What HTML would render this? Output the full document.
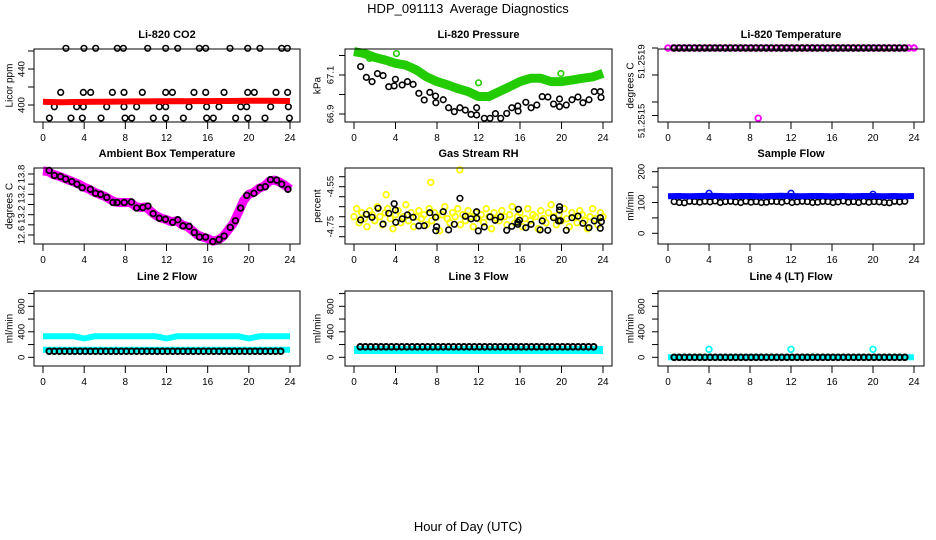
<!DOCTYPE html>
<html><head><meta charset="utf-8"><style>
html,body{margin:0;padding:0;background:#fff;}
svg{display:block;font-family:"Liberation Sans",Arial,sans-serif;}
.tt{font-size:11px;font-weight:bold;text-anchor:middle;}
.tk{font-size:10px;text-anchor:middle;}
.yk{font-size:9.5px;text-anchor:middle;}
</style></head><body>
<svg id="chart" width="936" height="540" viewBox="0 0 936 540">
<text x="468" y="13" font-size="13" text-anchor="middle">HDP_091113&#160; Average Diagnostics</text>
<text x="468" y="531" font-size="13" text-anchor="middle">Hour of Day (UTC)</text>
</svg>
<script>
// ---------- data ----------
const xTicks = [0,4,8,12,16,20,24];
// CO2
const co2BlackHours = [2.23,3.98,5.12,7.22,7.81,10.17,11.92,13.09,15.19,15.81,18.17,19.89,21.08,23.19,23.74,
 1.72,3.92,4.63,6.74,7.87,9.65,11.92,12.57,14.67,15.81,17.59,19.89,20.53,22.64,23.77,
 1.10,3.27,3.92,6.19,7.87,9.10,11.30,11.92,14.19,15.90,17.10,19.21,19.79,22.12,23.84,
 0.62,2.72,3.82,5.64,7.97,8.62,10.72,11.92,13.64,15.90,16.55,18.72,19.89,21.57,23.94];
const co2BlackValues = [463,463,463,463,463,463,463,463,463,463,463,463,463,463,463,
 414,414,414,414,414,414,414,414,414,414,414,414,414,414,414,
 398,398,398,398,398,398,398,398,398,398,398,398,398,398,398,
 385.5,385.5,385.5,385.5,385.5,385.5,385.5,385.5,385.5,385.5,385.5,385.5,385.5,385.5,385.5];
const co2RedValues = [403.5,403.2,403.0,403.3,403.4,403.6,403.5,403.8,403.9,404.0,404.0,404.2,404.1,404.3,404.2,404.4,404.3,404.5,404.4,404.6,404.8,404.7,404.8,404.6,404.5];
// Pressure
const presGreenValues = [67.22,67.21,67.19,67.177,67.16,67.15,67.126,67.09,67.066,67.05,67.03,67.015,66.99,66.99,67.015,67.04,67.066,67.083,67.083,67.066,67.066,67.074,67.083,67.09,67.108];
const presGreenOutHours = [1.5,4.09,12.0,19.94];
const presGreenOutValues = [67.185,67.21,67.06,67.108];
const presBlackHours = [0.64,1.19,1.74,2.26,2.80,3.35,3.87,3.99,4.64,5.15,5.70,6.25,6.77,7.31,7.86,7.89,8.60,9.12,9.67,10.21,10.73,11.28,11.82,11.82,12.56,13.11,13.63,14.14,14.72,15.21,15.79,15.82,16.56,17.07,17.62,18.14,18.69,19.23,19.81,19.81,20.46,21.01,21.59,22.07,22.65,23.16,23.74,23.81];
const presBlackValues = [67.143,67.088,67.066,67.107,67.097,67.040,67.044,67.078,67.049,67.066,67.052,67.006,66.972,67.011,66.992,66.958,66.973,66.932,66.912,66.932,66.920,66.898,66.932,66.895,66.878,66.878,66.902,66.878,66.903,66.932,66.941,66.915,66.960,66.932,66.946,66.989,66.987,66.951,66.977,66.938,66.946,66.973,66.987,66.958,66.973,67.015,67.015,66.985];
// Li-820 temperature
const tempValue = 51.2519;
const tempOutHours = [8.8];
const tempOutValues = [51.25164];
// Ambient box temperature
const ambBlackHours = [0.6,1.1,1.7,2.2,2.8,3.3,3.8,4.6,5.1,5.6,6.2,6.8,7.2,7.9,8.6,9.1,9.7,10.2,10.7,11.3,11.9,12.6,13.1,13.6,14.2,14.7,15.2,15.8,16.5,17.1,17.6,18.2,18.7,19.2,19.8,20.5,21.1,21.6,22.1,22.7,23.2,23.8];
const ambBlackValues = [13.87,13.77,13.75,13.70,13.65,13.60,13.53,13.50,13.42,13.40,13.34,13.24,13.24,13.24,13.25,13.13,13.14,13.17,13.02,12.93,12.91,12.85,12.90,12.78,12.77,12.65,12.56,12.56,12.47,12.51,12.58,12.75,12.88,13.13,13.38,13.42,13.53,13.55,13.69,13.68,13.60,13.50];
const ambMagentaValues = [13.86,13.85,13.79,13.76,13.72,13.68,13.64,13.60,13.54,13.50,13.44,13.40,13.36,13.30,13.25,13.24,13.24,13.24,13.16,13.14,13.15,13.06,12.98,12.93,12.90,12.86,12.88,12.80,12.77,12.69,12.60,12.56,12.53,12.48,12.50,12.57,12.70,12.83,13.05,13.28,13.40,13.44,13.52,13.56,13.66,13.68,13.64,13.58,13.50];
const ambTickLabels = ["13.8","13.2","13.2","12.6"];
// Gas stream RH
const rhBlackHours = [0.64,1.19,1.74,2.32,2.80,3.35,3.87,3.99,4.03,4.64,5.15,5.70,6.25,6.77,7.31,7.86,7.89,7.96,8.60,9.12,9.67,10.21,10.73,11.28,11.82,11.82,11.98,12.56,13.11,13.60,14.14,14.72,15.21,15.79,15.79,15.85,15.95,16.56,17.07,17.94,18.14,18.68,19.23,19.71,19.81,19.81,19.88,20.46,21.01,21.59,22.07,22.65,23.16,23.74,23.74,23.84];
const rhBlackValues = [-4.716,-4.688,-4.703,-4.658,-4.737,-4.683,-4.635,-4.667,-4.728,-4.711,-4.691,-4.703,-4.746,-4.745,-4.680,-4.703,-4.770,-4.750,-4.675,-4.766,-4.738,-4.608,-4.698,-4.711,-4.675,-4.708,-4.771,-4.751,-4.701,-4.718,-4.701,-4.768,-4.748,-4.738,-4.728,-4.663,-4.718,-4.755,-4.738,-4.766,-4.721,-4.768,-4.705,-4.721,-4.667,-4.650,-4.720,-4.768,-4.705,-4.697,-4.733,-4.755,-4.721,-4.705,-4.758,-4.725];
const rhYellowValues = [-4.70,-4.66,-4.73,-4.68,-4.71,-4.75,-4.67,-4.69,-4.72,-4.65,-4.70,-4.74,-4.68,-4.66,-4.71,-4.76,-4.69,-4.67,-4.73,-4.70,-4.64,-4.72,-4.68,-4.75,-4.70,-4.67,-4.71,-4.69,-4.74,-4.66,-4.72,-4.68,-4.70,-4.77,-4.69,-4.65,-4.71,-4.73,-4.68,-4.70,-4.66,-4.74,-4.69,-4.72,-4.67,-4.70,-4.75,-4.68,-4.71,-4.69,-4.73,-4.66,-4.70,-4.76,-4.68,-4.71,-4.72,-4.67,-4.70,-4.74,-4.69,-4.65,-4.73,-4.70,-4.68,-4.75,-4.71,-4.66,-4.72,-4.69,-4.70,-4.76,-4.67,-4.71,-4.73,-4.68,-4.64,-4.70,-4.74,-4.69,-4.72,-4.66,-4.71,-4.75,-4.68,-4.70,-4.73,-4.67,-4.69,-4.72,-4.76,-4.70,-4.66,-4.71,-4.74,-4.68,-4.70];
const rhYellowOutHours = [3.1,7.4,10.2];
const rhYellowOutValues = [-4.59,-4.528,-4.466];
// Sample flow
const sampleBlueValues = [120,121,120,121,122,121,120,121,121,120,121,122,121,120,121,121,120,121,120,121,121,120,121,120,121];
const sampleBlueOutHours = [4,12,20];
const sampleBlueOutValues = [130,130,127];
const sampleBlackValues = [103,100,99,104,103,101,104,102,105,100,103,104,102,100,104,101,103,100,101,104,103,101,105,100,102,104,103,100,101,104,103,100,102,105,101,103,100,104,101,103,102,100,99,104,102,104];
// Line flows
const line2CyanTop = [330,330,330,330,295,330,330,330,330,330,330,330,295,330,330,330,330,330,330,330,295,330,330,330,330];
const line2CyanLow = [120,120,120,120,120,120,120,120,120,120,120,120,120,120,120,120,120,120,120,120,120,120,120,120,120];
const line2Black = [95,95,95,95,95,95,95,95,95,95,95,95,95,95,95,95,95,95,95,95,95,95,95,95,95,95,95,95,95,95,95,95,95,95,95,95,95,95,95,95,95,95,95,95,95,95];
const line3Cyan = [115,115,115,115,115,115,115,115,115,115,115,115,115,115,115,115,115,115,115,115,115,115,115,115,115];
const line3Black = [165,165,165,165,165,165,165,165,165,165,165,165,165,165,165,165,165,165,165,165,165,165,165,165,165,165,165,165,165,165,165,165,165,165,165,165,165,165,165,165,165,165,165,165,165,165];
const line4Cyan = [0,0,0,0,0,0,0,0,0,0,0,0,0,0,0,0,0,0,0,0,0,0,0,0,0];
const line4CyanOutHours = [4,12,20];
const line4CyanOutValues = [125,125,125];
const line4Black = [0,0,0,0,0,0,0,0,0,0,0,0,0,0,0,0,0,0,0,0,0,0,0,0,0,0,0,0,0,0,0,0,0,0,0,0,0,0,0,0,0,0,0,0,0,0];

// ---------- drawing ----------
const NS='http://www.w3.org/2000/svg';
const svg=document.getElementById('chart');
function mk(tag,attrs,parent){const e=document.createElementNS(NS,tag);for(const k in attrs)e.setAttribute(k,attrs[k]);(parent||svg).appendChild(e);return e;}
const colL=[34,345,658], colR=[300,612,924], colX0=[43,354,668], colX24=[290,603,914];
const rowT=[49,168,291], rowB=[122,244,366];
const ylabX=[22,331,642], ytitX=[10,318,631];

function panel(r,c,name,title,ytitle,yA,yB,ticks,labVals,labTxt){
  const g=mk('g',{});
  
  
  const xs=h=>colX0[c]+(h/24)*(colX24[c]-colX0[c]);
  const ys=v=>yA[1]+(v-yA[0])*(yB[1]-yA[1])/(yB[0]-yA[0]);
  const L=colL[c],R=colR[c],T=rowT[r],B=rowB[r];
  const t=mk('text',{x:(L+R)/2,y:T-11,class:'tt'},g);t.textContent=title;
  
  
  const plot=mk('g',{},g);
  
  
  const xa=mk('g',{stroke:'#000','stroke-width':1},g);
  
  
  xTicks.forEach(h=>{const x=xs(h);mk('line',{x1:x,x2:x,y1:B,y2:B+7},xa);
    const tx=mk('text',{x:x,y:B+19,class:'tk',stroke:'none'},xa);tx.textContent=h;
    
    });
  const ya=mk('g',{stroke:'#000','stroke-width':1},g);
  
  
  ticks.forEach(v=>{const y=ys(v);mk('line',{x1:L-6,x2:L,y1:y,y2:y},ya);});
  labVals.forEach((v,i)=>{const y=ys(v);const tx=mk('text',{x:ylabX[c],y:y,class:'yk',stroke:'none',transform:`rotate(-90 ${ylabX[c]} ${y})`,'dominant-baseline':'central'},ya);tx.textContent=labTxt[i];
    
    });
  const yt=mk('text',{x:ytitX[c],y:(T+B)/2,class:'tk','font-size':'10.5',transform:`rotate(-90 ${ytitX[c]} ${(T+B)/2})`,'dominant-baseline':'central'},g);yt.textContent=ytitle;
  
  
  const box=mk('rect',{x:L,y:T,width:R-L,height:B-T,fill:'none',stroke:'#000','stroke-width':1},g);
  
  
  return {
    band(hours,vals,color,w){const pts=hours.map((h,i)=>xs(h).toFixed(1)+','+ys(vals[i]).toFixed(1)).join(' ');
      const p=mk('polyline',{points:pts,fill:'none',stroke:color,'stroke-width':w,'stroke-linejoin':'round','stroke-linecap':'butt'},plot);
      
      },
    pts(hours,vals,color,sw){hours.forEach((h,i)=>{const ci=mk('circle',{cx:xs(h),cy:ys(vals[i]),r:2.8,fill:'none',stroke:color,'stroke-width':sw||1.6},plot);
        
        });}
  };
}
const hourly=Array.from({length:25},(_,i)=>i);
const halfHourly=Array.from({length:49},(_,i)=>i*0.5);
const blackHalf=Array.from({length:46},(_,i)=>0.6+i*0.5);
const yellowHours=rhYellowValues.map((_,i)=>i*0.25);

let p;
p=panel(0,0,'panel-co2','Li-820 CO2','Licor ppm',[400,105],[440,69],[400,420,440,460],[400,440],['400','440']);
p.pts(co2BlackHours,co2BlackValues,'#000');
p.band(hourly,co2RedValues,'#ff0000',6);

p=panel(0,1,'panel-pressure','Li-820 Pressure','kPa',[67.1,75],[66.9,114],[67.2,67.1,67.0,66.9],[67.1,66.9],['67.1','66.9']);
p.pts(presBlackHours,presBlackValues,'#000');
p.band(hourly,presGreenValues,'#22cc00',9);
p.pts(presGreenOutHours,presGreenOutValues,'#22cc00');

p=panel(0,2,'panel-li820-temperature','Li-820 Temperature','degrees C',[51.2519,48],[51.2518,75],[51.2519,51.2518,51.2517,51.25165],[51.25185,51.25163],['51.2519','51.2515']);
p.pts(halfHourly,halfHourly.map(()=>tempValue),'#ff00ff',2);
p.pts(blackHalf,blackHalf.map(()=>tempValue),'#000',1.8);
p.pts(tempOutHours,tempOutValues,'#ff00ff',1.8);

p=panel(1,0,'panel-ambient-temperature','Ambient Box Temperature','degrees C',[13.8,174],[12.6,235],[13.8,13.6,13.4,13.2,13.0,12.8,12.6],[13.8,13.4,13.0,12.6],ambTickLabels);
p.band(halfHourly,ambMagentaValues,'#ff00ff',9);
p.pts(ambBlackHours,ambBlackValues,'#000',1.8);

p=panel(1,1,'panel-gas-stream-rh','Gas Stream RH','percent',[-4.55,186.7],[-4.75,226.7],[-4.50,-4.55,-4.60,-4.65,-4.70,-4.75,-4.80],[-4.55,-4.75],['-4.55','-4.75']);
p.pts(yellowHours,rhYellowValues,'#ffff00',1.8);
p.pts(rhYellowOutHours,rhYellowOutValues,'#ffff00',1.8);
p.pts(rhBlackHours,rhBlackValues,'#000',1.6);

p=panel(1,2,'panel-sample-flow','Sample Flow','ml/min',[0,233.3],[200,171.7],[0,50,100,150,200],[0,100,200],['0','100','200']);
p.pts(blackHalf,sampleBlackValues,'#000');
p.band(hourly,sampleBlueValues,'#0000ff',6);
p.pts(sampleBlueOutHours,sampleBlueOutValues,'#0000ff');

const fT=[0,200,400,600,800,1000], fL=[0,400,800], fLT=['0','400','800'];
p=panel(2,0,'panel-line2-flow','Line 2 Flow','ml/min',[0,357.3],[800,306.3],fT,fL,fLT);
p.band(hourly,line2CyanTop,'#00ffff',6);
p.band(hourly,line2CyanLow,'#00ffff',6);
p.pts(blackHalf,line2Black,'#000',2);

p=panel(2,1,'panel-line3-flow','Line 3 Flow','ml/min',[0,357.3],[800,306.3],fT,fL,fLT);
p.band(hourly,line3Cyan,'#00ffff',8);
p.pts(blackHalf,line3Black,'#000',2);

p=panel(2,2,'panel-line4-flow','Line 4 (LT) Flow','ml/min',[0,357.3],[800,306.3],fT,fL,fLT);
p.band(hourly,line4Cyan,'#00ffff',6);
p.pts(line4CyanOutHours,line4CyanOutValues,'#00ffff',1.8);
p.pts(blackHalf,line4Black,'#000',2);
</script>
</body></html>
